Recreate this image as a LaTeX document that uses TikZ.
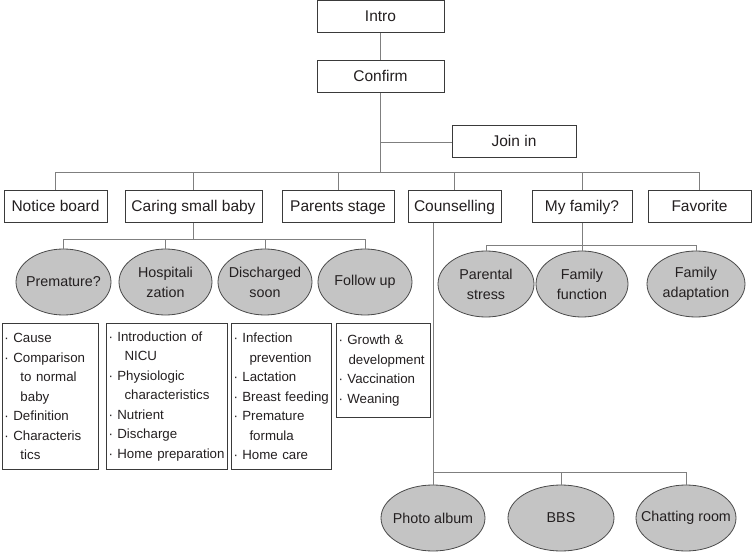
\documentclass[tikz,border=0pt]{standalone}
\usepackage{fontspec}
\setmainfont{Liberation Sans}
\usepackage{tikz}
\usepackage{xcolor}
\usetikzlibrary{shapes.geometric}
\definecolor{linegray}{HTML}{7F7F7F}
\definecolor{boxline}{HTML}{3A3A3A}
\definecolor{bubbleline}{HTML}{4A4A4A}
\definecolor{bubblefill}{HTML}{C4C4C4}
\definecolor{ink}{HTML}{231F20}
\newcommand{\indt}{\hspace*{16pt}}
\hyphenpenalty=10000
\exhyphenpenalty=10000

\begin{document}
\begin{tikzpicture}[x=1pt,y=-1pt,
  menu/.style={draw=boxline,line width=1pt,fill=white,minimum height=32,inner sep=0pt,text height=12pt,text depth=2pt,font=\fontsize{15.5}{18}\selectfont,text=ink},
  bubble/.style={ellipse,draw=bubbleline,fill=bubblefill,line width=0.8pt,minimum width=#1,minimum height=66,inner sep=0pt},
  topics/.style={draw=boxline,line width=1pt,anchor=north west,inner xsep=2pt,inner ysep=0pt,text width=#1,align=left,font=\fontsize{13.3}{19.5}\selectfont,text=ink},
  every label/.style={align=center,font=\fontsize{14.3}{20}\selectfont,text=ink},
  wire/.style={draw=linegray,line width=0.9pt}]
\useasboundingbox (0,0) rectangle (752,553);
\node[menu,minimum width=127] at (380.5,16.5) (intro) {Intro};
\node[menu,minimum width=127] at (380.5,76.5) (confirm) {Confirm};
\node[menu,minimum width=124] at (514,142) (join) {Join in};
\node[menu,minimum width=103] at (55.5,207) (notice) {Notice board};
\node[menu,minimum width=137] at (193.5,207) (caring) {Caring small baby};
\node[menu,minimum width=112] at (338,207) (parents) {Parents stage};
\node[menu,minimum width=93] at (454.5,207) (couns) {Counselling};
\node[menu,minimum width=100] at (582,207) (myfam) {My family?};
\node[menu,minimum width=103] at (699.5,207) (fav) {Favorite};
\node[bubble=95,label=center:{Premature?}] at (63.5,282) (prem) {};
\node[bubble=93,label=center:{Hospitali\\zation}] at (165.5,282) (hosp) {};
\node[bubble=94,label=center:{Discharged\\soon}] at (265,282) (disch) {};
\node[bubble=94,label=center:{Follow up}] at (365,282) (follow) {};
\node[bubble=96,label=center:{Parental\\stress}] at (486,284) (stress) {};
\node[bubble=92,label=center:{Family\\function}] at (582,284) (func) {};
\node[bubble=98,label=center:{Family\\adaptation}] at (696,284) (adapt) {};
\node[bubble=104,label=center:{Photo album}] at (433,518) (photo) {};
\node[bubble=106,label=center:{BBS}] at (561,518) (bbs) {};
\node[bubble=100,label=center:{Chatting room}] at (686,518) (chat) {};
\node[topics=92,minimum height=146] at (2,323) (causes) {· Cause\\· Comparison\\\indt to normal\\\indt baby\\· Definition\\· Characteris\\\indt tics};
\node[topics=117,minimum height=146] at (106,323) (nicu) {· Introduction of\\\indt NICU\\· Physiologic\\\indt characteristics\\· Nutrient\\· Discharge\\· Home preparation};
\node[topics=96,minimum height=146] at (231,323) (homecare) {· Infection\\\indt prevention\\· Lactation\\· Breast feeding\\· Premature\\\indt formula\\· Home care};
\node[topics=90,minimum height=94] at (336,323) (growth) {· Growth \&\\\hspace*{10pt}development\\· Vaccination\\· Weaning};
\coordinate (hub) at (380.5,172);
\coordinate (cbus) at (193.5,239);
\coordinate (fbus) at (582,245);
\coordinate (sbus) at (433,472);
\draw[wire] (intro) -- (confirm);
\draw[wire] (confirm) -- (hub);
\draw[wire] (join) -- (join -| hub);
\foreach \n in {notice,caring,parents,couns,myfam,fav}
  \draw[wire] (hub) -| (\n);
\draw[wire] (caring) -- (cbus);
\foreach \n in {prem,hosp,disch,follow}
  \draw[wire] (cbus) -| (\n);
\draw[wire] (myfam) -- (fbus);
\foreach \n in {stress,func,adapt}
  \draw[wire] (fbus) -| (\n);
\draw[wire] (couns.south -| sbus) -- (sbus);
\foreach \n in {photo,bbs,chat}
  \draw[wire] (sbus) -| (\n);
\end{tikzpicture}
\end{document}
